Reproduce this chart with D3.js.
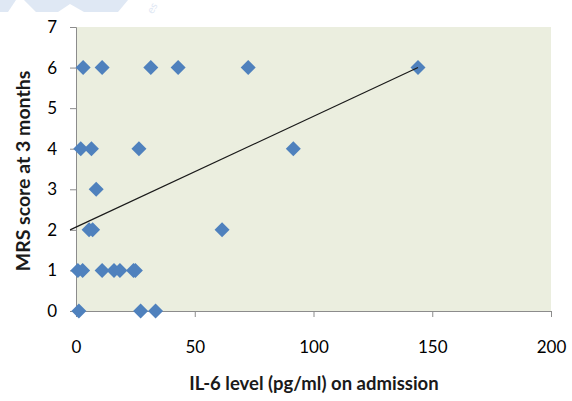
<!DOCTYPE html>
<html>
<head>
<meta charset="utf-8">
<script src="https://cdn.jsdelivr.net/npm/d3@7"></script>
<style>
  html, body { margin: 0; padding: 0; background: #ffffff; }
  svg { display: block; }
  text { font-family: Lato, "Open Sans", sans-serif; fill: #000; }
</style>
</head>
<body>
<svg id="chart" width="572" height="401"></svg>
<script>
// IL-6 level on admission (pg/ml) and MRS score at 3 months
const il6 = [3, 11, 31.5, 43, 72.5, 144,
             2, 6.5, 26.5, 91.5,
             8.5,
             5.5, 7, 61.5,
             0.8, 2.8, 11, 16, 18.5, 24.2, 25,
             1.2, 27.2, 33.5];
const mrs = [6, 6, 6, 6, 6, 6,
             4, 4, 4, 4,
             3,
             2, 2, 2,
             1, 1, 1, 1, 1, 1, 1,
             0, 0, 0];
// linear trend line end points
const trendX = [-2.5, 144];
const trendY = [2.0, 6.0];
const xTicks = [0, 50, 100, 150, 200];
const yTicks = [0, 1, 2, 3, 4, 5, 6, 7];
const xTitle = "IL-6 level (pg/ml) on admission";
const yTitle = "MRS score at 3 months";

const svg = d3.select("#chart");
const m = { left: 76, top: 27, right: 551, bottom: 311 };

const x = d3.scaleLinear().domain([0, 200]).range([m.left, m.right]);
const y = d3.scaleLinear().domain([0, 7]).range([m.bottom, m.top]);

// faint banner shapes along the top edge
const wm = svg.append("g").attr("fill", "#dfe8f4");
wm.append("path").attr("d", "M0,0 L16,0 L8,12 L0,12 Z");
wm.append("path").attr("d", "M24,0 L128,0 L118,12 L84,12 L70,4 L58,12 L36,12 Z");
wm.append("text").attr("x", 152).attr("y", 8)
  .attr("transform", "rotate(-60,152,8)")
  .attr("font-size", 11).style("fill", "#dfe8f4")
  .attr("text-anchor", "middle").attr("dy", "0.35em").text("es");

// plot area
svg.append("rect")
  .attr("x", m.left).attr("y", m.top)
  .attr("width", m.right - m.left).attr("height", m.bottom - m.top)
  .attr("fill", "#ebeedf");

// axes
const xAxis = svg.append("g")
  .attr("transform", `translate(0,${m.bottom})`)
  .call(d3.axisBottom(x).tickValues(xTicks).tickSize(6).tickPadding(24));
const yAxis = svg.append("g")
  .attr("transform", `translate(${m.left},0)`)
  .call(d3.axisLeft(y).tickValues(yTicks).tickFormat(d3.format("d")).tickSize(6).tickPadding(13));

[xAxis, yAxis].forEach(a => {
  a.select(".domain").attr("stroke", "#8c8c8c");
  a.selectAll(".tick line").attr("stroke", "#8c8c8c");
  a.selectAll(".tick text").attr("font-size", 17).attr("font-family", "Lato, sans-serif");
});

// points: rotated squares
const pts = il6.map((v, i) => ({ x: v, y: mrs[i] }));
const r = 7.5;
svg.append("g").selectAll("path").data(pts).join("path")
  .attr("d", `M0,${-r} L${r},0 L0,${r} L${-r},0 Z`)
  .attr("transform", d => `translate(${x(d.x)},${y(d.y)})`)
  .attr("fill", "#4f81bd");

svg.append("line")
  .attr("x1", x(trendX[0])).attr("y1", y(trendY[0]))
  .attr("x2", x(trendX[1])).attr("y2", y(trendY[1]))
  .attr("stroke", "#1a1a1a").attr("stroke-width", 1.2);

// axis titles
svg.append("text")
  .attr("x", 314).attr("y", 390)
  .attr("text-anchor", "middle").attr("font-size", 18.5).attr("font-weight", "bold")
  .style("fill", "#1a1a1a")
  .text(xTitle);
svg.append("text")
  .attr("transform", "translate(30,171) rotate(-90)")
  .attr("text-anchor", "middle").attr("font-size", 19.5).attr("font-weight", "bold")
  .style("fill", "#1a1a1a")
  .text(yTitle);
</script>
</body>
</html>
